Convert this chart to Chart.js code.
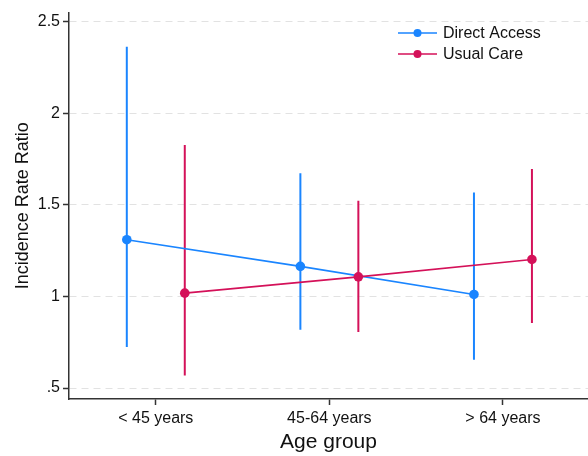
<!DOCTYPE html>
<html>
<head>
<meta charset="utf-8">
<script src="https://cdn.jsdelivr.net/npm/chart.js@4"></script>
<style>
html,body{margin:0;padding:0;background:#fff;}
#c{display:block;}
</style>
</head>
<body>
<canvas id="c" width="588" height="456"></canvas>
<script>
// ---- data ----
const categories = ['< 45 years', '45-64 years', '> 64 years'];
const seriesNames = ['Direct Access', 'Usual Care'];
const directIRR   = [1.31, 1.164, 1.011];
const directLow   = [0.724, 0.818, 0.655];
const directHigh  = [2.364, 1.673, 1.567];
const usualIRR    = [1.018, 1.107, 1.202];
const usualLow    = [0.568, 0.806, 0.855];
const usualHigh   = [1.827, 1.522, 1.696];
const yTickValues = [0.5, 1, 1.5, 2, 2.5];
const yTickLabels = ['.5', '1', '1.5', '2', '2.5'];

// ---- styling ----
const BLUE = 'rgb(26,133,255)';
const RED = 'rgb(212,17,89)';
const FONT = '"Liberation Sans", Arial, Helvetica, sans-serif';
const AXIS = '#333333';
const OFFSET = 0.167;

function meanPoints(vals, shift) {
  return vals.map((v, i) => ({x: i + 1 + shift, y: v}));
}
function ciPoints(lo, hi, shift) {
  const pts = [];
  lo.forEach((l, i) => {
    pts.push({x: i + 1 + shift, y: l});
    pts.push({x: i + 1 + shift, y: hi[i]});
    pts.push({x: i + 1 + shift, y: null});
  });
  return pts;
}

const legendPlugin = {
  id: 'customLegend',
  afterDraw(chart) {
    const ctx = chart.ctx;
    const items = [{label: seriesNames[0], color: BLUE}, {label: seriesNames[1], color: RED}];
    const x0 = 398, x1 = 437, yStart = 33, step = 21;
    ctx.save();
    items.forEach((it, k) => {
      const y = yStart + k * step;
      ctx.strokeStyle = it.color;
      ctx.lineWidth = 1.6;
      ctx.beginPath(); ctx.moveTo(x0, y); ctx.lineTo(x1, y); ctx.stroke();
      ctx.fillStyle = it.color;
      ctx.beginPath(); ctx.arc((x0 + x1) / 2, y, 4, 0, Math.PI * 2); ctx.fill();
      ctx.fillStyle = '#111';
      ctx.font = '16px ' + FONT;
      ctx.textBaseline = 'middle';
      ctx.textAlign = 'left';
      ctx.fillText(it.label, 443, y + 1);
    });
    ctx.restore();
  }
};

const bgPlugin = {
  id: 'bg',
  beforeDraw(chart) {
    const ctx = chart.ctx;
    ctx.save(); ctx.fillStyle = '#fff'; ctx.fillRect(0, 0, chart.width, chart.height); ctx.restore();
  }
};

new Chart(document.getElementById('c'), {
  type: 'line',
  data: {
    datasets: [
      {label: seriesNames[0], data: meanPoints(directIRR, -OFFSET), borderColor: BLUE, backgroundColor: BLUE,
       borderWidth: 1.6, pointRadius: 4.8, pointHoverRadius: 4.8, pointBorderWidth: 0, order: 1},
      {label: seriesNames[1], data: meanPoints(usualIRR, OFFSET), borderColor: RED, backgroundColor: RED,
       borderWidth: 1.6, pointRadius: 4.8, pointHoverRadius: 4.8, pointBorderWidth: 0, order: 0},
      {label: 'ci1', data: ciPoints(directLow, directHigh, -OFFSET), borderColor: BLUE, borderWidth: 2,
       pointRadius: 0, spanGaps: false, order: 3},
      {label: 'ci2', data: ciPoints(usualLow, usualHigh, OFFSET), borderColor: RED, borderWidth: 2,
       pointRadius: 0, spanGaps: false, order: 2}
    ]
  },
  options: {
    responsive: false,
    animation: false,
    events: [],
    layout: {autoPadding: false, padding: {top: 12, right: 0, left: 0, bottom: 0}},
    plugins: {legend: {display: false}, tooltip: {enabled: false}},
    scales: {
      x: {
        type: 'linear',
        min: 0.5, max: 3.49,
        afterBuildTicks(scale) { scale.ticks = categories.map((c, i) => ({value: i + 1})); },
        afterFit(scale) { scale.height = 57; },
        ticks: {
          callback: (v) => categories[Math.round(v) - 1],
          font: {family: FONT, size: 16}, color: '#111', padding: 4, maxRotation: 0, autoSkip: false
        },
        grid: {drawOnChartArea: false, drawTicks: true, tickLength: 6, tickColor: AXIS, tickWidth: 1.5},
        border: {display: true, color: AXIS, width: 1.5},
        title: {display: true, text: 'Age group', font: {family: FONT, size: 21}, color: '#111',
                padding: {top: 0, bottom: 1}}
      },
      y: {
        type: 'linear',
        min: 0.44, max: 2.55,
        afterBuildTicks(scale) { scale.ticks = yTickValues.map(v => ({value: v})); },
        afterFit(scale) { scale.width = 69; },
        ticks: {
          callback: (v) => yTickLabels[yTickValues.indexOf(v)],
          font: {family: FONT, size: 16}, color: '#111', padding: 3
        },
        grid: {drawOnChartArea: true, color: '#e2e2e2', lineWidth: 1, drawTicks: true, tickLength: 6,
               tickColor: AXIS, tickWidth: 1.5, tickBorderDash: []},
        border: {display: true, color: AXIS, width: 1.5, dash: [7, 5]},
        title: {display: true, text: 'Incidence Rate Ratio', font: {family: FONT, size: 18}, color: '#111',
                padding: {top: 12, bottom: 0}}
      }
    }
  },
  plugins: [bgPlugin, legendPlugin]
});
</script>
</body>
</html>
